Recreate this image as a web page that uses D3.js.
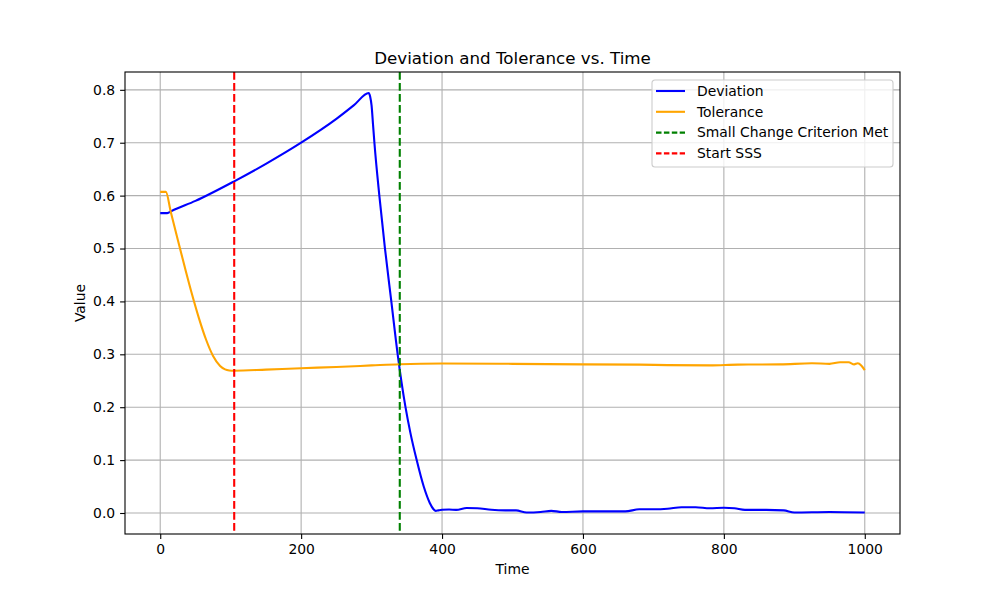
<!DOCTYPE html>
<html>
<head>
<meta charset="utf-8">
<script src="https://cdn.jsdelivr.net/npm/d3@7"></script>
<style>
  body { margin: 0; background: #fff; }
  text { font-family: "DejaVu Sans", sans-serif; fill: #000; }
</style>
</head>
<body>
<div id="chart"></div>
<script>
// deviation curve
const devTime = [0, 10, 16, 50, 105, 150, 200, 250, 275, 296, 298, 300, 302, 304, 311, 319, 328, 337, 348, 355, 364, 374, 382.6, 388, 391, 395, 400, 410, 420, 435, 450, 470, 490, 505, 520, 540, 555, 570, 600, 640, 660, 680, 700, 720, 740, 760, 780, 800, 815, 830, 860, 885, 900, 950, 1000];
const devValue = [0.567, 0.567, 0.571, 0.590, 0.627, 0.660, 0.700, 0.745, 0.771, 0.794, 0.787, 0.770, 0.735, 0.700, 0.600, 0.500, 0.400, 0.300, 0.201, 0.152, 0.100, 0.050, 0.019, 0.007, 0.004, 0.005, 0.006, 0.0065, 0.006, 0.0095, 0.009, 0.006, 0.005, 0.005, 0.001, 0.002, 0.004, 0.002, 0.003, 0.003, 0.003, 0.007, 0.007, 0.008, 0.011, 0.011, 0.009, 0.010, 0.009, 0.006, 0.006, 0.005, 0.001, 0.002, 0.001];

// tolerance curve
const tolTime = [0, 8, 15, 25, 35, 45, 55, 65, 75, 85, 92, 98, 105, 150, 200, 250, 300, 340, 400, 500, 600, 680, 720, 780, 820, 880, 925, 950, 965, 977, 985, 990, 995, 1000];
const tolValue = [0.607, 0.607, 0.569, 0.516, 0.464, 0.414, 0.368, 0.328, 0.297, 0.278, 0.2715, 0.2695, 0.269, 0.271, 0.2737, 0.276, 0.279, 0.2813, 0.2826, 0.282, 0.281, 0.2805, 0.2795, 0.279, 0.2805, 0.281, 0.283, 0.282, 0.285, 0.285, 0.281, 0.283, 0.279, 0.270];

const markers = [
  { label: "Small Change Criterion Met", time: 340, color: "green" },
  { label: "Start SSS", time: 105, color: "red" }
];

const xTicks = [0, 200, 400, 600, 800, 1000];
const yTicks = [0, 0.1, 0.2, 0.3, 0.4, 0.5, 0.6, 0.7, 0.8];

const width = 1000, height = 600;
const margin = { top: 72, right: 100, bottom: 66, left: 125 };
const iw = width - margin.left - margin.right;
const ih = height - margin.top - margin.bottom;

const dev = devTime.map((t, i) => ({ t, v: devValue[i] }));
const tol = tolTime.map((t, i) => ({ t, v: tolValue[i] }));

// matplotlib style 5% padding
const xScale = d3.scaleLinear().domain([-50, 1050]).range([0, iw]);
const yMin = 0, yMax = d3.max(devValue);
const pad = (yMax - yMin) * 0.05;
const yScale = d3.scaleLinear().domain([yMin - pad, yMax + pad]).range([ih, 0]);

const svg = d3.select("#chart").append("svg")
  .attr("width", width)
  .attr("height", height);

const g = svg.append("g").attr("transform", `translate(${margin.left},${margin.top})`);

// grid
g.append("g").selectAll("line").data(xTicks).join("line")
  .attr("x1", d => xScale(d)).attr("x2", d => xScale(d))
  .attr("y1", 0).attr("y2", ih)
  .attr("stroke", "#b0b0b0").attr("stroke-width", 1.1);
g.append("g").selectAll("line").data(yTicks).join("line")
  .attr("y1", d => yScale(d)).attr("y2", d => yScale(d))
  .attr("x1", 0).attr("x2", iw)
  .attr("stroke", "#b0b0b0").attr("stroke-width", 1.1);

const line = d3.line().x(d => xScale(d.t)).y(d => yScale(d.v)).curve(d3.curveMonotoneX);

g.append("path").datum(dev).attr("d", line)
  .attr("fill", "none").attr("stroke", "blue").attr("stroke-width", 2.1);
g.append("path").datum(tol).attr("d", line)
  .attr("fill", "none").attr("stroke", "orange").attr("stroke-width", 2.1);

g.append("g").selectAll("line").data(markers).join("line")
  .attr("x1", d => xScale(d.time)).attr("x2", d => xScale(d.time))
  .attr("y1", 0).attr("y2", ih)
  .attr("stroke", d => d.color).attr("stroke-width", 2.1)
  .attr("stroke-dasharray", "7.7,3.3");

// axes
const xAxis = d3.axisBottom(xScale).tickValues(xTicks).tickSize(4.9).tickPadding(4.9).tickFormat(d3.format("d"));
const yAxis = d3.axisLeft(yScale).tickValues(yTicks).tickSize(4.9).tickPadding(4.9).tickFormat(d3.format(".1f"));

const gx = g.append("g").attr("transform", `translate(0,${ih})`).call(xAxis);
const gy = g.append("g").call(yAxis);
[gx, gy].forEach(a => {
  a.select(".domain").remove();
  a.selectAll(".tick line").attr("stroke", "#000").attr("stroke-width", 1.1);
  a.selectAll(".tick text").attr("font-size", 13.9).attr("font-family", "DejaVu Sans").attr("fill", "#000");
});

// spines
g.append("rect").attr("width", iw).attr("height", ih)
  .attr("fill", "none").attr("stroke", "#000").attr("stroke-width", 1.1);

// labels
svg.append("text").attr("x", margin.left + iw / 2).attr("y", 64)
  .attr("text-anchor", "middle").attr("font-size", 16.7)
  .text("Deviation and Tolerance vs. Time");
svg.append("text").attr("x", margin.left + iw / 2).attr("y", 574)
  .attr("text-anchor", "middle").attr("font-size", 13.9).text("Time");
svg.append("text").attr("transform", `translate(85,${margin.top + ih / 2}) rotate(-90)`)
  .attr("text-anchor", "middle").attr("font-size", 13.9).text("Value");

// legend
const legendItems = [
  { label: "Deviation", color: "blue", dash: null },
  { label: "Tolerance", color: "orange", dash: null },
  ...markers.map(m => ({ label: m.label, color: m.color, dash: "5.5,2.4" }))
];
const lg = svg.append("g").attr("transform", "translate(652,80)");
lg.append("rect").attr("width", 241).attr("height", 87).attr("rx", 3)
  .attr("fill", "#fff").attr("fill-opacity", 0.8)
  .attr("stroke", "#cccccc").attr("stroke-width", 1.1);
const rows = lg.selectAll("g.row").data(legendItems).join("g")
  .attr("class", "row")
  .attr("transform", (d, i) => `translate(0,${11 + i * 20.8})`);
rows.append("line").attr("x1", 4).attr("x2", 33)
  .attr("stroke", d => d.color).attr("stroke-width", 2.1)
  .attr("stroke-dasharray", d => d.dash);
rows.append("text").attr("x", 45).attr("dy", "0.35em")
  .attr("font-size", 13.9).text(d => d.label);
</script>
</body>
</html>
